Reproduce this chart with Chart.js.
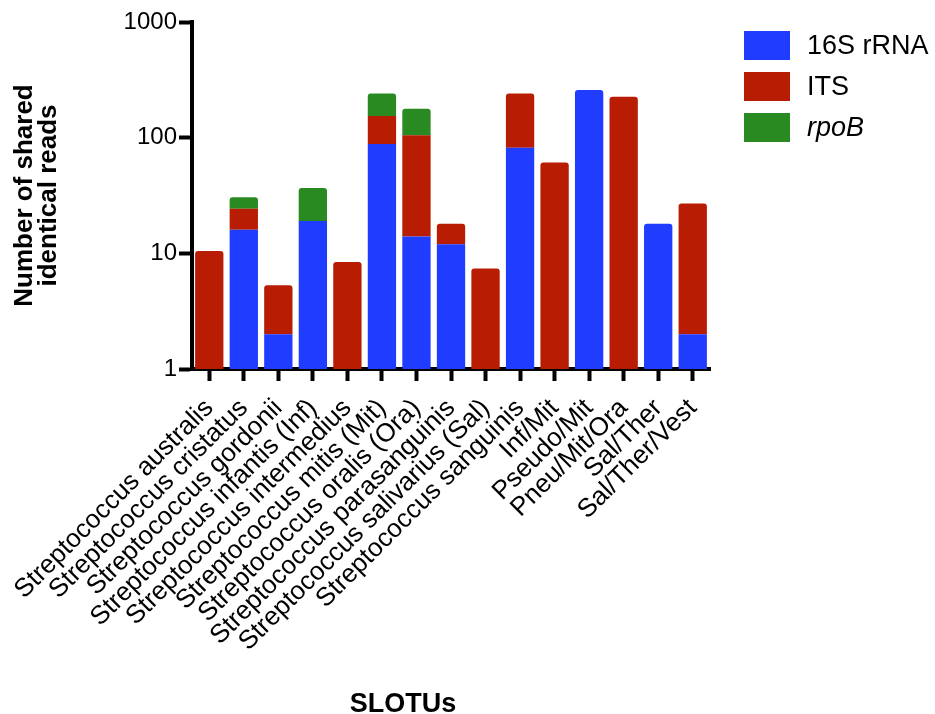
<!DOCTYPE html>
<html>
<head>
<meta charset="utf-8">
<script src="https://cdn.jsdelivr.net/npm/chart.js@4"></script>
<style>
  body { margin: 0; background: #fff; }
  #wrap { position: relative; width: 935px; height: 714px; font-family: Arial, 'Liberation Sans', Helvetica, sans-serif; }
  #chart { position: absolute; left: 0; top: 0; }
  #legend { position: absolute; left: 744px; top: 31px; }
  .item { display: flex; align-items: center; height: 29px; margin-bottom: 12px; }
  .swatch { width: 46px; height: 29px; margin-right: 17px; }
  .label { font-size: 27px; color: #000; }
  #xtitle { position: absolute; left: 0; width: 806px; top: 688px; text-align: center; font-weight: bold; font-size: 27px; }
</style>
</head>
<body>
<div id="wrap">
  <canvas id="chart" width="935" height="714"></canvas>
  <div id="legend"></div>
  <div id="xtitle">SLOTUs</div>
</div>
<script>
const slotus = [
  'Streptococcus australis', 'Streptococcus cristatus', 'Streptococcus gordonii',
  'Streptococcus infantis (Inf)', 'Streptococcus intermedius', 'Streptococcus mitis (Mit)',
  'Streptococcus oralis (Ora)', 'Streptococcus parasanguinis', 'Streptococcus salivarius (Sal)',
  'Streptococcus sanguinis', 'Inf/Mit', 'Pseudo/Mit', 'Pneu/Mit/Ora', 'Sal/Ther', 'Sal/Ther/Vest'
];
// segment heights (stacked)
const rrna16S = [null, 16, 2, 19, null, 88, 14, 12, null, 82, null, 258, null, 18, 2];
const its     = [10.5, 8.3, 3.3, null, 8.4, 66, 91, 6, 7.4, 159, 61, null, 226, null, 25];
const rpoB    = [null, 6.2, null, 17.7, null, 87, 73, null, null, null, null, null, null, null, null];
const yTicks = [1, 10, 100, 1000];

const series = [
  { name: '16S rRNA', data: rrna16S, color: '#1f3cff', italic: false },
  { name: 'ITS', data: its, color: '#b81c03', italic: false },
  { name: 'rpoB', data: rpoB, color: '#2a8a22', italic: true }
];

const fontFamily = "Arial, 'Liberation Sans', Helvetica, sans-serif";

const ctx = document.getElementById('chart').getContext('2d');
new Chart(ctx, {
  type: 'bar',
  data: {
    labels: slotus,
    datasets: series.map(s => ({
      label: s.name,
      data: s.data,
      backgroundColor: s.color,
      borderRadius: 3,
      barPercentage: 0.82,
      categoryPercentage: 1
    }))
  },
  options: {
    responsive: false,
    animation: false,
    devicePixelRatio: 1,
    layout: { padding: { left: 0, top: 22, right: 225, bottom: 0 } },
    plugins: { legend: { display: false }, tooltip: { enabled: false } },
    scales: {
      x: {
        stacked: true,
        border: { color: '#000', width: 4 },
        grid: { display: true, offset: false, drawOnChartArea: false, drawTicks: true, tickLength: 12, tickWidth: 4, tickColor: '#000' },
        ticks: {
          autoSkip: false, minRotation: 45, maxRotation: 45, padding: 12,
          color: '#000', font: { family: fontFamily, size: 26 }
        },
        afterFit(scale) { scale.height = 345; }
      },
      y: {
        type: 'logarithmic',
        stacked: true,
        min: 1,
        max: 1000,
        border: { color: '#000', width: 4 },
        grid: { display: true, drawOnChartArea: false, drawTicks: true, tickLength: 13, tickWidth: 4, tickColor: '#000' },
        afterBuildTicks(scale) { scale.ticks = yTicks.map(v => ({ value: v })); },
        ticks: {
          color: '#000', padding: 2,
          font: { family: fontFamily, size: 24 },
          callback: v => String(v)
        },
        title: {
          display: true,
          text: ['Number of shared', 'identical reads'],
          color: '#000',
          padding: { top: 12, bottom: 0 },
          font: { family: fontFamily, size: 26, weight: 'bold', lineHeight: 0.95 }
        },
        afterFit(scale) { scale.width = 192; }
      }
    }
  }
});

const legend = document.getElementById('legend');
series.forEach(s => {
  const item = document.createElement('div');
  item.className = 'item';
  item.innerHTML = `<div class="swatch" style="background:${s.color}"></div><span class="label"${s.italic ? ' style="font-style:italic"' : ''}>${s.name}</span>`;
  legend.appendChild(item);
});
</script>
</body>
</html>
